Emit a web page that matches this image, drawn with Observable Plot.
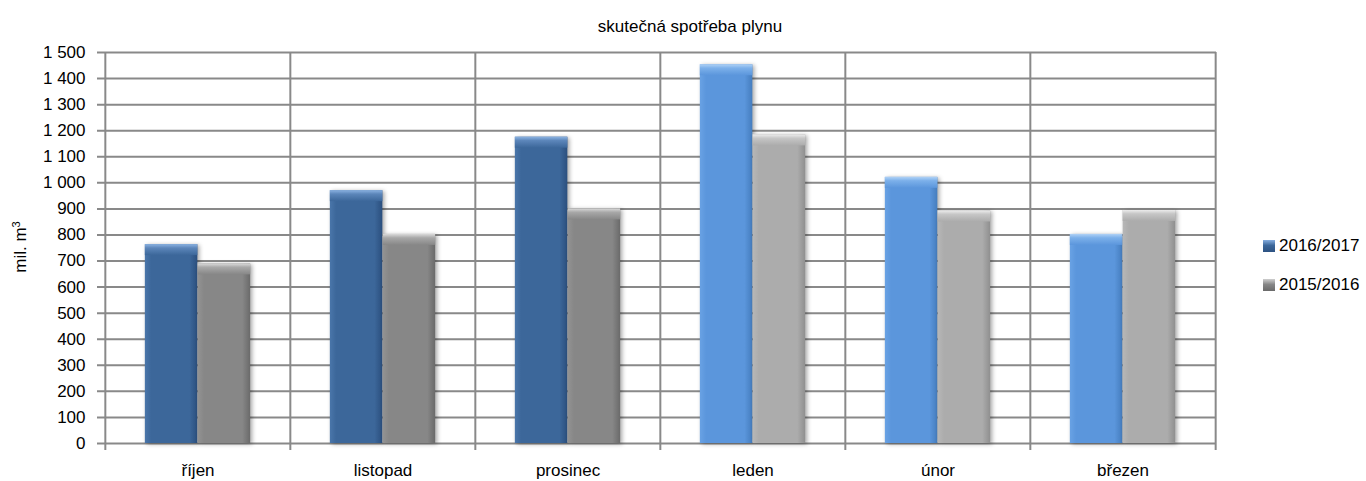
<!DOCTYPE html>
<html><head><meta charset="utf-8">
<script src="https://cdn.jsdelivr.net/npm/d3@7"></script>
<script src="https://cdn.jsdelivr.net/npm/@observablehq/plot@0.6"></script>
<style>
body{margin:0;background:#fff;font-family:"Liberation Sans",Arial,sans-serif;color:#000}
#wrap{position:relative;width:1366px;height:481px;overflow:hidden;background:#fff}
#title{position:absolute;top:17px;left:7px;width:1366px;text-align:center;font-size:17px;line-height:20px}
#chart{position:absolute;top:40px;left:0}
#ylabel{position:absolute;left:21px;top:247px;transform:translate(-50%,-50%) rotate(-90deg);font-size:17px;line-height:20px;white-space:nowrap}
#ylabel sup{font-size:11px;vertical-align:6px;line-height:0}
.leg{position:absolute;left:1263px;font-size:17px;line-height:20px;display:flex;align-items:center;white-space:nowrap}
.sw{width:12px;height:12px;margin-right:4px}
</style></head>
<body>
<div id="wrap">
  <div id="title"></div>
  <div id="chart"></div>
  <div id="ylabel">mil. m<sup>3</sup></div>
  <div class="leg" id="leg0" style="top:236px"><span class="sw" style="background:linear-gradient(#86aee0,#3c679a 45%,#2d5282)"></span><span></span></div>
  <div class="leg" id="leg1" style="top:275px"><span class="sw" style="background:linear-gradient(#cfcfcf,#878787 45%,#6a6a6a)"></span><span></span></div>
</div>
<script>
const title = "skutečná spotřeba plynu";
const months = ["říjen", "listopad", "prosinec", "leden", "únor", "březen"];
const series = ["2016/2017", "2015/2016"];
const v2016_2017 = [763, 970, 1175, 1453, 1021, 802];
const v2015_2016 = [689, 802, 900, 1184, 892, 894];
const yTicks = [0, 100, 200, 300, 400, 500, 600, 700, 800, 900, 1000, 1100, 1200, 1300, 1400, 1500];

document.getElementById("title").textContent = title;
document.querySelector("#leg0 span:last-child").textContent = series[0];
document.querySelector("#leg1 span:last-child").textContent = series[1];

const W = 1366, H = 441, ML = 104, MR = 150, MT = 12, MB = 38;
const bw = (W - ML - MR) / months.length;
const barW = bw * 0.285;
const CAP = 11;
const GRID = "#898989";

const rowsA = months.map((m, i) => ({month: m, series: series[0], value: v2016_2017[i]}));
const rowsB = months.map((m, i) => ({month: m, series: series[1], value: v2015_2016[i]}));

const fmt = d3.formatLocale({decimal: ",", thousands: " ", grouping: [3], currency: ["", ""]}).format(",");

const tone = i => (i < 3 ? "d" : "l");
const blueOpt = {insetLeft: bw / 2 - barW, insetRight: bw / 2};
const grayOpt = {insetLeft: bw / 2, insetRight: bw / 2 - barW};

const svg = Plot.plot({
  width: W, height: H,
  marginLeft: ML, marginRight: MR, marginTop: MT, marginBottom: MB,
  style: {fontFamily: "Liberation Sans, Arial, sans-serif", fontSize: "17px", color: "#000", background: "#fff"},
  x: {domain: months, padding: 0, tickSize: 0, tickPadding: 20, label: null},
  y: {domain: [0, 1500], ticks: yTicks, tickFormat: fmt, tickSize: 0, tickPadding: 19, label: null},
  color: {type: "identity"},
  marks: [
    Plot.ruleY(yTicks, {y: d => d, stroke: GRID, strokeWidth: 2, insetLeft: -7}),
    Plot.ruleX(months, {x: d => d, y1: 1500, y2: 0, dx: -bw / 2, insetBottom: -7, stroke: GRID, strokeWidth: 2}),
    Plot.ruleX(months.slice(-1), {x: d => d, y1: 1500, y2: 0, dx: bw / 2, insetBottom: -7, stroke: GRID, strokeWidth: 2}),
    Plot.barY(rowsA, {x: "month", y: "value", fill: (d, i) => `url(#bA-${tone(i)})`, ...blueOpt}),
    Plot.barY(rowsA, {x: "month", y1: "value", y2: "value", insetBottom: -CAP, fill: (d, i) => `url(#cA-${tone(i)})`, ...blueOpt}),
    Plot.barY(rowsB, {x: "month", y: "value", fill: (d, i) => `url(#bB-${tone(i)})`, ...grayOpt}),
    Plot.barY(rowsB, {x: "month", y1: "value", y2: "value", insetBottom: -CAP, fill: (d, i) => `url(#cB-${tone(i)})`, ...grayOpt})
  ]
});

const pal = {
  "A-d": {base: "#3c679a", left: "#4a76aa", right: "#2b4f7e", cap: "#8cb3e2", mid: "#5c86ba"},
  "A-l": {base: "#5b96dc", left: "#69a2e4", right: "#457dbe", cap: "#b0d2f6", mid: "#7cb0ea"},
  "B-d": {base: "#878787", left: "#939393", right: "#6a6a6a", cap: "#dadada", mid: "#a8a8a8"},
  "B-l": {base: "#acacac", left: "#b7b7b7", right: "#8f8f8f", cap: "#ececec", mid: "#c6c6c6"}
};
const defs = d3.select(svg).insert("defs", ":first-child");
for (const [k, c] of Object.entries(pal)) {
  const gb = defs.append("linearGradient").attr("id", "b" + k).attr("x1", 0).attr("x2", 1).attr("y1", 0).attr("y2", 0);
  [[0, c.left], [0.12, c.base], [0.85, c.base], [1, c.right]].forEach(([o, col]) => gb.append("stop").attr("offset", o).attr("stop-color", col));
  const gc = defs.append("linearGradient").attr("id", "c" + k).attr("x1", 0).attr("x2", 0).attr("y1", 0).attr("y2", 1);
  [[0, c.cap], [0.35, c.mid], [1, c.base]].forEach(([o, col]) => gc.append("stop").attr("offset", o).attr("stop-color", col));
}
const barGroups = svg.querySelectorAll('g[aria-label="bar"]');
[0, 2].forEach(j => { if (barGroups[j]) barGroups[j].style.filter = "drop-shadow(2px 1px 2px rgba(0,0,0,0.35))"; });

document.getElementById("chart").appendChild(svg);
</script>
</body></html>
